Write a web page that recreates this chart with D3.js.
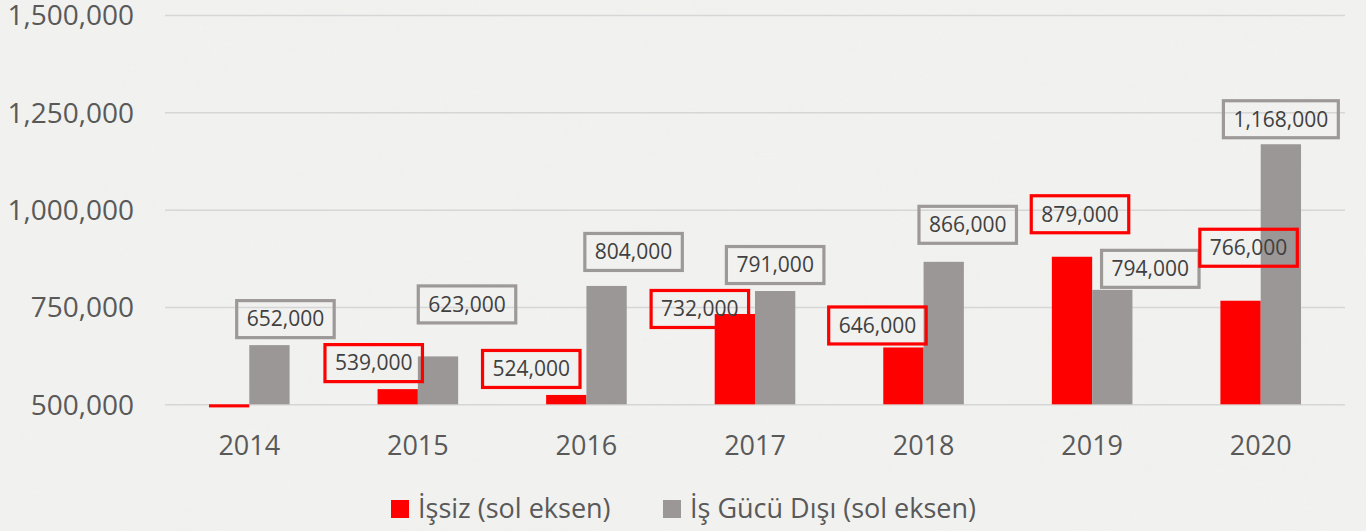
<!DOCTYPE html>
<html>
<head>
<meta charset="utf-8">
<script src="https://cdn.jsdelivr.net/npm/d3@7"></script>
<style>
  html, body { margin: 0; padding: 0; background: #f0f0ee; }
  svg { display: block; }
  text { font-family: "Open Sans", sans-serif; }
</style>
</head>
<body>
<svg id="chart" width="1366" height="531"></svg>
<script>
// ---- data ----
const years = ["2014", "2015", "2016", "2017", "2018", "2019", "2020"];
const issiz = [492000, 539000, 524000, 732000, 646000, 879000, 766000];
const isGucuDisi = [652000, 623000, 804000, 791000, 866000, 794000, 1168000];
const issizLabels = [null, "539,000", "524,000", "732,000", "646,000", "879,000", "766,000"];
const disiLabels = ["652,000", "623,000", "804,000", "791,000", "866,000", "794,000", "1,168,000"];
const yTicks = [500000, 750000, 1000000, 1250000, 1500000];
const seriesNames = ["İşsiz (sol eksen)", "İş Gücü Dışı (sol eksen)"];

// ---- layout (label box offsets from bar-top centre, px) ----
const redOffsets = [[0,0],[-24,-26],[-35,-26],[-35,-5],[-26,-22],[8,-42.5],[8,-53]];
const grayOffsets = [[16,-26],[29,-52],[27,-34],[0,-26],[24,-37],[38,-21],[0,-25]];

const W = 1366, H = 531;
const svg = d3.select("#chart");

// background texture
const defs = svg.append("defs");
const f = defs.append("filter").attr("id", "marble").attr("x", 0).attr("y", 0).attr("width", 1).attr("height", 1);
f.append("feTurbulence").attr("type", "fractalNoise").attr("baseFrequency", "0.012 0.02").attr("numOctaves", 3).attr("seed", 7).attr("result", "n");
f.append("feColorMatrix").attr("in", "n").attr("type", "matrix")
  .attr("values", "0 0 0 0 0.86  0 0 0 0 0.86  0 0 0 0 0.84  0 0 0 -1.4 0.75");
svg.append("rect").attr("width", W).attr("height", H).attr("fill", "#f1f1ef");
svg.append("rect").attr("width", W).attr("height", H).attr("filter", "url(#marble)").attr("opacity", 0.55);

const x0 = 165, x1 = 1345;
const x = d3.scaleBand().domain(years).range([x0, x1]).padding(0);
const y = d3.scaleLinear().domain([500000, 1500000]).range([404.3, 15]);
const barW = 40.3;

// y axis + gridlines
const yAxis = svg.append("g").attr("transform", `translate(${x0},0)`)
  .call(d3.axisLeft(y).tickValues(yTicks).tickFormat(d3.format(",")).tickSize(-(x1 - x0)).tickPadding(31));
yAxis.select(".domain").remove();
yAxis.selectAll(".tick line").attr("stroke", "#d6d6d6").attr("stroke-width", 1.5);
yAxis.selectAll(".tick text").attr("fill", "#595959").style("font-size", "28px").attr("dy", "0.35em");

// x axis
const xAxis = svg.append("g").attr("transform", `translate(0,${y(500000)})`)
  .call(d3.axisBottom(x).tickSize(0));
xAxis.select(".domain").remove();
xAxis.selectAll(".tick text").attr("fill", "#595959").style("font-size", "27px").attr("y", 51).attr("dy", "0");

const base = y(500000);
const colors = ["#ff0000", "#9b9796"];
const series = [issiz, isGucuDisi];

series.forEach((vals, si) => {
  svg.append("g").selectAll("rect").data(vals).join("rect")
    .attr("x", (d, i) => x(years[i]) + x.bandwidth() / 2 - barW + si * barW)
    .attr("y", d => Math.min(y(d), base))
    .attr("width", barW)
    .attr("height", d => Math.max(Math.abs(base - y(d)), 2))
    .attr("fill", colors[si]);
});

// data labels
function drawLabels(vals, labels, offs, si) {
  const boxStroke = si === 0 ? "#ff0000" : "#9d9998";
  const g = svg.append("g");
  vals.forEach((v, i) => {
    if (!labels[i]) return;
    const cx = x(years[i]) + x.bandwidth() / 2 - barW / 2 + si * barW + offs[i][0];
    const cy = y(v) + offs[i][1];
    const lg = g.append("g");
    const r = lg.append("rect");
    const t = lg.append("text").attr("x", cx).attr("y", cy).attr("text-anchor", "middle")
      .attr("dy", "0.35em").attr("fill", "#404040").style("font-size", "21px").text(labels[i]);
    const bw = t.node().getComputedTextLength() + 20;
    r.attr("x", cx - bw / 2).attr("y", cy - 18.5).attr("width", bw).attr("height", 37)
      .attr("fill", "none").attr("stroke", boxStroke).attr("stroke-width", 3.2);
  });
}
drawLabels(isGucuDisi, disiLabels, grayOffsets, 1);
drawLabels(issiz, issizLabels, redOffsets, 0);

// legend
const legend = svg.append("g");
const legX = [391, 663];
seriesNames.forEach((name, i) => {
  legend.append("rect").attr("x", legX[i]).attr("y", 500).attr("width", 18).attr("height", 18).attr("fill", colors[i]);
  legend.append("text").attr("x", legX[i] + 27).attr("y", 517.5).attr("fill", "#595959")
    .style("font-size", "27px").text(name);
});
</script>
</body>
</html>
